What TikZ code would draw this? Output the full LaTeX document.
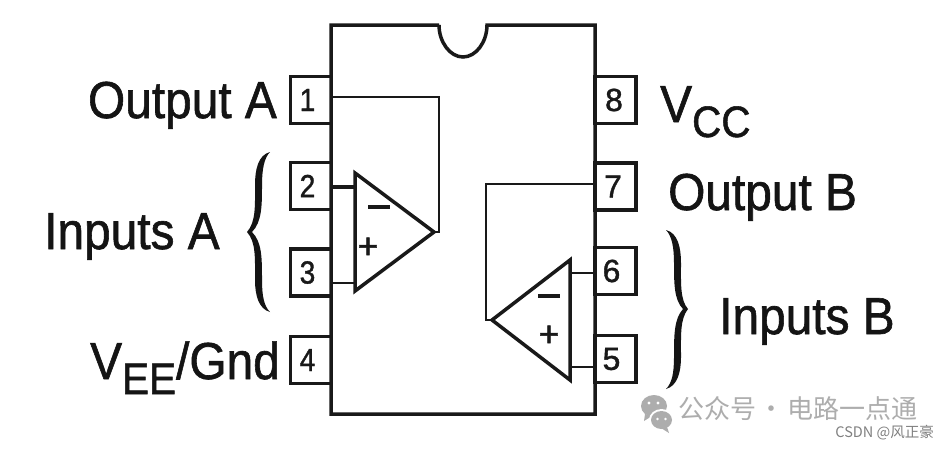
\documentclass[tikz,border=0pt]{standalone}
\usepackage{fontspec}
\setmainfont{Liberation Sans}
\newfontfamily\heavyfont[FakeBold=1.2]{Liberation Sans}
\newfontfamily\cjkfont{Noto Sans CJK SC}
\newcommand{\pinnum}[1]{\scalebox{.88}[1]{#1}\hspace*{7pt}}
\newcommand{\subtext}[1]{\raisebox{-15pt}{\fontsize{44}{44}\selectfont #1}}
\tikzset{
  x=1pt,y=-1pt,
  wire/.style={line width=3.5pt,line join=miter,draw=black!90},
  thin wire/.style={line width=2.8pt,draw=black!90},
  pinbox/.style={draw=black!90,line width=3.4pt,fill=white,minimum width=41pt,minimum height=47pt,inner sep=0pt,font=\heavyfont\fontsize{32}{32}\selectfont,text=black!90},
  lbl/.style={inner sep=0pt,font=\heavyfont\fontsize{52}{52}\selectfont,xscale=.92,text=black!92},
  sign/.style={inner sep=0pt,font=\heavyfont\fontsize{36}{36}\selectfont,text=black!90},
  mark wm/.style={inner sep=0pt,text=black!32},
}
\begin{document}
\begin{tikzpicture}
\useasboundingbox (0,0) rectangle (949,448);
\fill[white] (0,0) rectangle (949,448);
% pins
\node[pinbox] (p1) at (311,100) {\pinnum{1}};
\node[pinbox] (p2) at (311,186) {\pinnum{2}};
\node[pinbox] (p3) at (311,272.5) {\pinnum{3}};
\node[pinbox] (p4) at (311,360) {\pinnum{4}};
\node[pinbox] (p8) at (615.5,100) {\hspace*{-3pt}8};
\node[pinbox] (p7) at (615.5,186.5) {\hspace*{-5pt}7};
\node[pinbox] (p6) at (615.5,271) {\hspace*{-8pt}6};
\node[pinbox] (p5) at (615.5,359) {\hspace*{-8pt}5};
% package
\draw[wire] (439,25) -- (331,25) -- (331,414) -- (595,414) -- (595,25) -- (487,25)
  .. controls (487,42) and (476,57) .. (463,57) .. controls (450,57) and (439,42) .. (439,25);
% op amps
\coordinate (aT) at (355,173);
\coordinate (aB) at (355,291);
\coordinate (aO) at (434,232);
\coordinate (bT) at (570,260);
\coordinate (bB) at (570,380);
\coordinate (bO) at (492,320);
\coordinate (aI) at (355,187);
\coordinate (aJ) at (355,283);
\coordinate (bI) at (570,273);
\coordinate (bJ) at (570,367);
\draw[wire] (aT) -- (aB) -- (aO) -- cycle;
\draw[wire] (bT) -- (bB) -- (bO) -- cycle;
\node[sign] (am) at (379,207) {\rule{22pt}{3.4pt}};
\node[sign] (ap) at (368,248) {+};
\node[sign] (bm) at (549,296) {\rule{22pt}{3.4pt}};
\node[sign] (bp) at (549,336) {+};
% connectors
\draw[wire] (aI -| p2.east) -- (aI);
\draw[thin wire] (aJ) -- (aJ -| p3.east);
\draw[thin wire] (bI) -- (bI -| p6.west);
\draw[thin wire] (bJ) -- (bJ -| p5.west);
\coordinate (aK) at (439,97);
\coordinate (bK) at (486,184);
\draw[thin wire] (aK -| p1.east) -- (aK) -- (aK |- aO) -- (aO);
\draw[thin wire] (bK -| p7.west) -- (bK) -- (bK |- bO) -- (bO);
% labels
\node[lbl,anchor=base east] (outa) at (277,118) {Output A};
\node[lbl,anchor=base west] (outb) at (668,210) {Output B};
\node[lbl,anchor=base west] (ina) at (44,249) {Inputs A};
\node[lbl,anchor=base west] (inb) at (719,334) {Inputs B};
\node[lbl,anchor=base west] (vcc) at (660,122) {V\subtext{CC}};
\node[lbl,anchor=base west] (vee) at (90,379) {V\subtext{EE}/Gnd};
% braces
\fill[black!92] (270,152) .. controls (258,155) and (255,170) .. (255,185)
  .. controls (255,205) and (256,222) .. (247,232)
  .. controls (256,242) and (255,258) .. (255,280)
  .. controls (255,296) and (259,309) .. (270,312)
  .. controls (264,306) and (262,296) .. (262,280)
  .. controls (262,258) and (262,242) .. (252,232)
  .. controls (262,222) and (262,205) .. (262,185)
  .. controls (262,170) and (264,158) .. (270,152) -- cycle;
\fill[black!92] (666,230) .. controls (678,233) and (681,248) .. (681,263)
  .. controls (681,283) and (680,300) .. (688,309)
  .. controls (680,319) and (681,335) .. (681,357)
  .. controls (681,373) and (677,386) .. (666,389)
  .. controls (672,383) and (674,373) .. (674,357)
  .. controls (674,335) and (674,319) .. (683,309)
  .. controls (674,300) and (674,283) .. (674,263)
  .. controls (674,248) and (672,236) .. (666,230) -- cycle;
% watermark
\fill[black!32] (654,406) ellipse [x radius=13,y radius=11];
\fill[black!32] (645,414) -- (644,421) -- (652,416) -- cycle;
\fill[white] (661.5,420) ellipse [x radius=12.5,y radius=11];
\fill[black!32] (661.5,420) ellipse [x radius=10.5,y radius=9];
\fill[black!32] (667,427) -- (669,433) -- (661,428) -- cycle;
\fill[white] (649,403) circle (1.7) (658,403) circle (1.7) (657.5,419) circle (1.4) (665.5,419) circle (1.4);
\node[mark wm,anchor=base west,font=\cjkfont\fontsize{26}{26}\selectfont] (wm) at (678,418) {\spaceskip=2.5pt\relax 公众号 · 电路一点通};
\node[mark wm,anchor=base east,font=\cjkfont\fontsize{14.5}{14.5}\selectfont,text=black!50] (csdn) at (934,437) {CSDN @风正豪};
\end{tikzpicture}
\end{document}
